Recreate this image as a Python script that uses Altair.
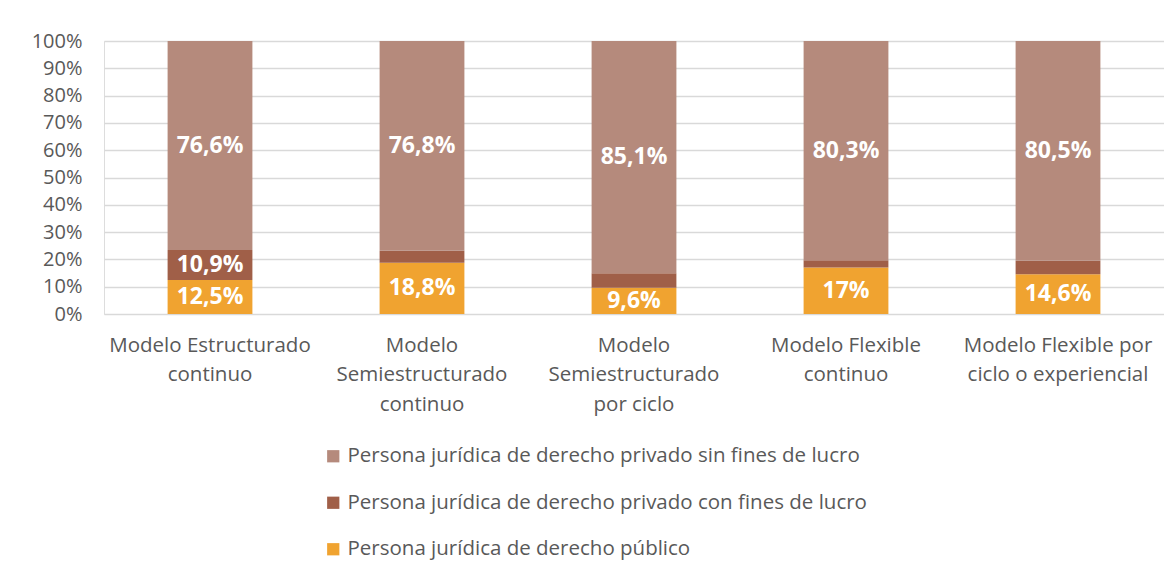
import altair as alt
import pandas as pd

categories = [
    "Modelo Estructurado continuo",
    "Modelo Semiestructurado continuo",
    "Modelo Semiestructurado por ciclo",
    "Modelo Flexible continuo",
    "Modelo Flexible por ciclo o experiencial",
]
category_lines = [
    ["Modelo Estructurado", "continuo"],
    ["Modelo", "Semiestructurado", "continuo"],
    ["Modelo", "Semiestructurado", "por ciclo"],
    ["Modelo Flexible", "continuo"],
    ["Modelo Flexible por", "ciclo o experiencial"],
]
series = [
    "Persona jurídica de derecho privado sin fines de lucro",
    "Persona jurídica de derecho privado con fines de lucro",
    "Persona jurídica de derecho público",
]
colors = ["#B58A7C", "#A05F48", "#F0A330"]

sin_fines = [76.6, 76.8, 85.1, 80.3, 80.5]
con_fines = [10.9, 4.4, 5.3, 2.7, 4.9]
publico = [12.5, 18.8, 9.6, 17.0, 14.6]

sin_labels = ["76,6%", "76,8%", "85,1%", "80,3%", "80,5%"]
con_labels = ["10,9%", "", "", "", ""]
pub_labels = ["12,5%", "18,8%", "9,6%", "17%", "14,6%"]

y_ticks = [0, 0.1, 0.2, 0.3, 0.4, 0.5, 0.6, 0.7, 0.8, 0.9, 1.0]

rows = []
for i, c in enumerate(categories):
    rows.append({"cat": c, "serie": series[2], "v": publico[i] / 100, "lab": pub_labels[i], "ord": 0})
    rows.append({"cat": c, "serie": series[1], "v": con_fines[i] / 100, "lab": con_labels[i], "ord": 1})
    rows.append({"cat": c, "serie": series[0], "v": sin_fines[i] / 100, "lab": sin_labels[i], "ord": 2})
df = pd.DataFrame(rows)

label_map = "{" + ",".join(
    "'%s':[%s]" % (c, ",".join("'%s'" % l for l in lines))
    for c, lines in zip(categories, category_lines)
) + "}"

FONT = "Open Sans"
GRAY = "#595959"

base = alt.Chart(df).transform_stack(
    stack="v", groupby=["cat"], sort=[alt.SortField("ord", "ascending")], as_=["y0", "y1"]
).transform_calculate(mid="(datum.y0 + datum.y1) / 2")

x_axis = alt.Axis(
    labelExpr=label_map + "[datum.label]",
    labelAngle=0,
    labelFontSize=20.5,
    labelColor=GRAY,
    labelFont=FONT,
    labelLineHeight=29.5,
    labelPadding=21,
    ticks=False,
    domain=False,
    labelLimit=300,
)
x_scale = alt.Scale(paddingInner=0.6, paddingOuter=0.3)

y_axis = alt.Axis(
    format=".0%",
    values=y_ticks,
    labelOverlap=False,
    labelFontSize=20,
    labelColor=GRAY,
    labelFont=FONT,
    labelPadding=22,
    ticks=False,
    domain=False,
    gridColor="#D9D9D9",
    gridWidth=1.5,
)
y_scale = alt.Scale(domain=[0, 1])

bars = base.mark_bar().encode(
    x=alt.X("cat:N", sort=categories, title=None, scale=x_scale, axis=x_axis),
    y=alt.Y("y0:Q", scale=y_scale, title=None, axis=y_axis),
    y2="y1:Q",
    color=alt.Color(
        "serie:N",
        scale=alt.Scale(domain=series, range=colors),
        legend=alt.Legend(
            title=None,
            orient="none",
            legendX=219,
            legendY=405,
            direction="vertical",
            labelFontSize=20.5,
            labelColor=GRAY,
            labelFont=FONT,
            symbolType="square",
            symbolSize=150,
            symbolStrokeWidth=0,
            rowPadding=25.5,
            labelLimit=700,
            labelOffset=4,
        ),
    ),
)

texts = base.mark_text(
    color="white", fontSize=23, fontWeight="bold", font=FONT, baseline="middle"
).encode(
    x=alt.X("cat:N", sort=categories, title=None, scale=x_scale, axis=x_axis),
    y=alt.Y("mid:Q", scale=y_scale, title=None, axis=y_axis),
    text="lab:N",
)

chart = (
    alt.layer(bars, texts)
    .properties(
        width=1060,
        height=273,
        autosize=alt.AutoSizeParams(type="none"),
        padding={"left": 96, "top": 33, "right": 0, "bottom": 252},
    )
    .configure_view(stroke=None)
    .configure(background="white")
)

chart.save("out.html", embed_options={"renderer": "svg", "actions": False})
